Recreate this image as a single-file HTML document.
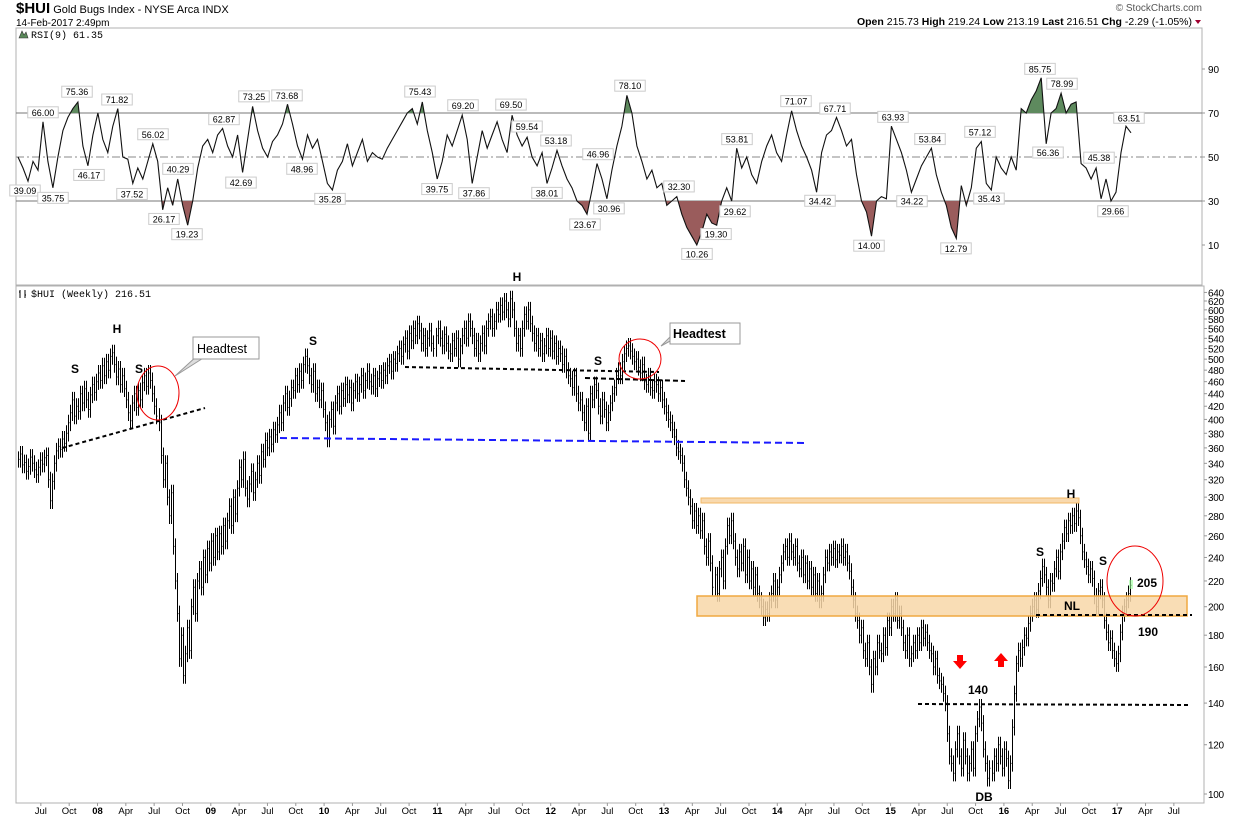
<!DOCTYPE html>
<html><head><meta charset="utf-8"><style>
html,body{margin:0;padding:0;background:#fff;}
svg{display:block;font-family:"Liberation Sans",Arial,sans-serif;}
</style></head><body>
<svg id="chart" width="1240" height="819" viewBox="0 0 1240 819" xmlns="http://www.w3.org/2000/svg">
<text x="16" y="13" font-size="11"><tspan font-weight="bold" font-size="15">$HUI</tspan> Gold Bugs Index - NYSE Arca INDX</text>
<text x="16" y="26" font-size="10">14-Feb-2017 2:49pm</text>
<text x="1202" y="11" font-size="10" fill="#555" text-anchor="end">© StockCharts.com</text>
<text x="1192" y="25" font-size="10.5" text-anchor="end"><tspan font-weight="bold">Open</tspan> 215.73 <tspan font-weight="bold">High</tspan> 219.24 <tspan font-weight="bold">Low</tspan> 213.19 <tspan font-weight="bold">Last</tspan> 216.51 <tspan font-weight="bold">Chg</tspan> -2.29 (-1.05%)</text>
<path d="M1195,20 l6,0 l-3,4 z" fill="#a00030"/>
<rect x="16" y="28" width="1186" height="257" fill="none" stroke="#b0b0b0"/>
<rect x="16" y="286" width="1188" height="517" fill="none" stroke="#b0b0b0"/>
<text x="31" y="38" font-size="10" font-family="Liberation Mono,monospace">RSI(9) 61.35</text>
<path d="M19,38 l3,-7 l2,4 l2,-3 l2,6 z" fill="#5a8a5a" stroke="#333" stroke-width="0.6"/>
<text x="31" y="297" font-size="10" font-family="Liberation Mono,monospace">$HUI (Weekly) 216.51</text>
<path d="M20,290 v8 M19,292 h1 M25,290 v8 M25,295 h1" stroke="#000"/>
<g id="rsi"></g>
<g id="price"></g>
<g id="axes"></g>
<g id="annot">
<line x1="62" y1="448" x2="205" y2="408" stroke="#000" stroke-width="2" stroke-dasharray="4,3"/>
<ellipse cx="158" cy="393" rx="21" ry="27" fill="none" stroke="#e00" stroke-width="1"/>
<path d="M175,376 L198,355 L208,355 z" fill="#ddd" stroke="#999"/>
<rect x="193" y="337" width="66" height="22" fill="#fff" stroke="#999"/>
<text x="197" y="353" font-size="12.5">Headtest</text>
<text x="75" y="373" font-size="12" font-weight="bold" text-anchor="middle">S</text>
<text x="117" y="333" font-size="12" font-weight="bold" text-anchor="middle">H</text>
<text x="139" y="373" font-size="12" font-weight="bold" text-anchor="middle">S</text>
<text x="313" y="345" font-size="12" font-weight="bold" text-anchor="middle">S</text>
<text x="517" y="281" font-size="12" font-weight="bold" text-anchor="middle">H</text>
<text x="598" y="365" font-size="12" font-weight="bold" text-anchor="middle">S</text>
<line x1="280" y1="438" x2="807" y2="443" stroke="#1a1aff" stroke-width="2" stroke-dasharray="7,4"/>
<line x1="405" y1="367" x2="659" y2="372" stroke="#000" stroke-width="2" stroke-dasharray="4,3"/>
<line x1="585" y1="378" x2="685" y2="381" stroke="#000" stroke-width="2" stroke-dasharray="5,3"/>
<ellipse cx="640" cy="359" rx="21" ry="20" fill="none" stroke="#e00" stroke-width="1"/>
<path d="M661,346 L673,334 L683,334 z" fill="#ddd" stroke="#999"/>
<rect x="670" y="323" width="70" height="21" fill="#fff" stroke="#999"/>
<text x="673" y="338" font-size="12.5" font-weight="bold">Headtest</text>
<rect x="701" y="498" width="378" height="5" fill="#f8d9ae" stroke="#f2b866"/>
<rect x="697" y="596" width="490" height="20" fill="#f8d7a8" fill-opacity="0.85" stroke="#f0a840" stroke-width="1.5"/>
<text x="1071" y="498" font-size="12" font-weight="bold" text-anchor="middle">H</text>
<text x="1040" y="556" font-size="12" font-weight="bold" text-anchor="middle">S</text>
<text x="1103" y="565" font-size="12" font-weight="bold" text-anchor="middle">S</text>
<line x1="1036" y1="615" x2="1192" y2="615" stroke="#000" stroke-width="2" stroke-dasharray="4,3"/>
<text x="1072" y="610" font-size="12" font-weight="bold" text-anchor="middle">NL</text>
<ellipse cx="1135" cy="581" rx="28" ry="35" fill="none" stroke="#e00" stroke-width="1"/>
<text x="1137" y="587" font-size="12" font-weight="bold">205</text>
<text x="1138" y="636" font-size="12" font-weight="bold">190</text>
<line x1="918" y1="704" x2="1190" y2="705" stroke="#000" stroke-width="2" stroke-dasharray="4,3"/>
<text x="978" y="694" font-size="12" font-weight="bold" text-anchor="middle">140</text>
<path d="M957,655 h6 v6 h4 l-7,8 l-7,-8 h4 z" fill="#f00"/>
<path d="M998,667 h6 v-6 h4 l-7,-8 l-7,8 h4 z" fill="#f00"/>
<text x="984" y="801" font-size="12" font-weight="bold" text-anchor="middle">DB</text>
</g>
</svg>
<script>
// ---- price data: weekly closes (Apr 2007 .. Feb 2017) ----
const closes = [345,352,338,341,330,336,348,340,332,326,335,344,339,347,350,
320,296,318,340,356, 362,358,372,366,380, 395,410,430,405,420, 412,440,425,448,430,
415,438,455,442,460, 475,462,488,470,495, 480,505,512,490,468, 482,455,470,448,430,
410,398,425,440,418, 445,430,458,470,452, 475,462,440,420,405, 395,350,320,340,300,
280,305,250,220,195, 165,180,155,168,185, 170,200,215,195,220, 230,215,240,225,248,
235,255,240,260,245, 262,250,270,255,275, 290,270,300,282,310, 335,320,345,310,298,
315,330,305,320,340, 325,355,345,370,360, 375,365,385,378,392, 410,395,425,440,418,
432,450,445,470,455, 478,462,490,505,488, 470,455,478,440,450, 430,445,415,395,372,
400,415,390,425,440, 420,445,432,455,438, 450,425,445,460,440, 455,470,445,462,478,
460,452,470,448,465, 475,462,480,470,488, 495,478,500,492,510, 520,505,528,540,515,
550,535,560,545,570, 555,530,545,520,540, 555,530,520,545,560, 540,525,548,530,515,
510,535,520,540,500, 525,545,560,540,575, 560,545,520,535,510, 530,550,525,560,575,
585,560,575,600,590, 610,595,620,600,580, 625,600,560,530,545, 520,560,590,575,600,
570,550,530,545,520, 535,510,525,545,520, 540,515,530,505,520, 510,490,505,480,470,
465,450,470,440,425, 430,410,395,420,380, 440,430,455,445,420, 405,430,415,395,410,
425,440,450,470,480, 470,495,510,520,525, 515,505,495,500,485, 475,490,460,455,470,
450,445,460,455,440, 450,430,420,410,400, 395,385,375,360,355, 350,340,320,310,300,
290,275,285,270,280, 265,275,250,240,255, 235,215,225,210,230, 240,220,250,270,260,
275,255,240,230,245, 235,250,225,240,220, 230,215,225,210,205, 200,192,198,195,205,
210,220,205,215,225, 235,245,250,240,255, 245,240,250,235,230, 240,225,235,220,230,
215,225,210,220,205, 210,225,240,235,245, 240,248,238,245,242, 250,240,245,235,228,
215,205,195,190,180, 185,170,165,175,160, 150,165,160,175,170, 168,180,172,190,185,
200,195,205,190,195, 185,175,170,180,165, 168,175,170,180,175, 185,178,182,175,170,
168,160,165,155,152, 150,145,140,125,115, 112,108,118,125,115, 110,122,115,108,112,
118,110,125,132,138, 130,118,112,106,110, 108,115,112,120,115, 110,118,114,105,112,
128,145,162,170,165, 172,180,178,188,195, 200,205,198,212,222, 232,225,215,205,220,
218,230,240,228,245, 255,268,262,275,270, 280,272,285,278,260, 245,238,232,225,230,
222,208,200,212,215, 205,190,182,175,178, 170,165,162,168,182, 195,200,205,210,216.5];
// ---- RSI(9) values sampled across the same period ----
const rsiValues = [50,45,39,48,44,66,48,36,50,62,68,72,75,55,46,60,70,58,52,64,72,50,49,38,45,40,48,56,48,26,36,28,40,28,19,30,45,55,58,52,60,63,55,50,60,43,58,73,62,54,50,57,60,65,74,65,55,49,60,54,58,48,38,35,44,48,56,46,52,58,48,52,50,49,54,58,62,66,70,72,65,75,62,52,40,48,60,55,62,69,58,38,50,62,54,60,66,58,52,69,60,55,59,50,46,52,38,45,53,46,40,36,30,28,24,35,47,40,31,44,55,64,78,70,55,48,40,44,36,38,28,30,32,24,18,14,10,16,24,20,19,30,36,30,54,45,50,42,38,48,55,60,52,48,60,71,62,55,50,44,34,52,60,62,68,62,55,58,42,30,25,14,30,32,31,64,58,52,44,34,40,46,50,54,42,34,28,18,13,37,28,36,54,57,38,35,50,45,42,50,44,72,70,76,80,86,56,70,72,79,70,74,75,47,45,40,45,31,40,30,34,52,64,61];
// RSI annotated values and the x pixel where each label sits
const rsiLabelValues = [39.09,66.00,35.75,75.36,46.17,71.82,37.52,56.02,26.17,40.29,19.23,62.87,42.69,73.25,73.68,48.96,35.28,75.43,39.75,69.20,37.86,69.50,59.54,38.01,53.18,23.67,46.96,30.96,78.10,32.30,10.26,19.30,29.62,53.81,71.07,34.42,67.71,14.00,63.93,34.22,53.84,12.79,57.12,35.43,85.75,56.36,78.99,45.38,29.66,63.51];
const rsiLabelX = [25,43,53,77,89,117,132,153,164,178,187,224,241,254,287,302,330,420,437,463,474,511,527,547,556,585,598,609,630,679,697,716,735,737,796,820,835,869,893,912,930,956,980,989,1040,1048,1062,1099,1113,1129];
const rsiLabelBelow = [1,0,1,0,1,0,1,0,1,0,1,0,1,0,0,1,1,0,1,0,1,0,0,1,0,1,0,1,0,0,1,1,1,0,0,1,0,1,0,1,0,1,0,1,0,1,0,0,1,0];
const rsiTicks = [90,70,50,30,10];
const priceTicks = [640,620,600,580,560,540,520,500,480,460,440,420,400,380,360,340,320,300,280,260,240,220,200,180,160,140,120,100];
const timeLabels = ["Jul","Oct","08","Apr","Jul","Oct","09","Apr","Jul","Oct","10","Apr","Jul","Oct","11","Apr","Jul","Oct","12","Apr","Jul","Oct","13","Apr","Jul","Oct","14","Apr","Jul","Oct","15","Apr","Jul","Oct","16","Apr","Jul","Oct","17","Apr","Jul"];
const timeLabelYears = [2007.5,2007.75,2008,2008.25,2008.5,2008.75,2009,2009.25,2009.5,2009.75,2010,2010.25,2010.5,2010.75,2011,2011.25,2011.5,2011.75,2012,2012.25,2012.5,2012.75,2013,2013.25,2013.5,2013.75,2014,2014.25,2014.5,2014.75,2015,2015.25,2015.5,2015.75,2016,2016.25,2016.5,2016.75,2017,2017.25,2017.5];

const NS="http://www.w3.org/2000/svg";
function mk(tag,attrs,parent){const e=document.createElementNS(NS,tag);for(const k in attrs)e.setAttribute(k,attrs[k]);parent.appendChild(e);return e;}
const xPrice = i => 18 + i*(1112/(closes.length-1));
const yPrice = p => 794 - 270.2*Math.log(p/100);
const xRsi = i => 18 + i*(1113/(rsiValues.length-1));
const yRsi = v => 157 - (v-50)*2.2;
const xTime = yr => 97.5 + (yr-2008)*113.3;

const rsiG=document.getElementById('rsi'), priceG=document.getElementById('price'), axG=document.getElementById('axes');

[70,30].forEach(v=>{const l=mk('line',{x1:16,x2:1202,y1:yRsi(v),y2:yRsi(v),stroke:'#777','stroke-width':1},rsiG);

});
const mid=mk('line',{x1:16,x2:1202,y1:yRsi(50),y2:yRsi(50),stroke:'#888','stroke-dasharray':'8,3,2,3'},rsiG);



const defs=mk('defs',{},rsiG);
const cpA=mk('clipPath',{id:'above70'},defs); mk('rect',{x:0,y:0,width:1240,height:yRsi(70)},cpA);
const cpB=mk('clipPath',{id:'below30'},defs); mk('rect',{x:0,y:yRsi(30),width:1240,height:300},cpB);
const pts=rsiValues.map((v,i)=>xRsi(i).toFixed(1)+','+yRsi(v).toFixed(1));
const last=rsiValues.length-1;
const fa=mk('polygon',{points:xRsi(0)+','+yRsi(70)+' '+pts.join(' ')+' '+xRsi(last)+','+yRsi(70),fill:'#5e8a5e','clip-path':'url(#above70)'},rsiG);


const fb=mk('polygon',{points:xRsi(0)+','+yRsi(30)+' '+pts.join(' ')+' '+xRsi(last)+','+yRsi(30),fill:'#9a5c5c','clip-path':'url(#below30)'},rsiG);


const rl=mk('polyline',{points:pts.join(' '),fill:'none',stroke:'#111','stroke-width':1.1},rsiG);



rsiLabelValues.forEach((v,k)=>{
  const x=rsiLabelX[k], y=yRsi(v), below=rsiLabelBelow[k];
  const g=mk('g',{},rsiG);
  
  
  const txt=v.toFixed(2), w=txt.length*5.3+4;
  const by= below ? y+4 : y-15;
  mk('rect',{x:x-w/2,y:by,width:w,height:11,fill:'#fff',stroke:'#ccc'},g);
  const t=mk('text',{x:x,y:by+9,'font-size':9,'text-anchor':'middle'},g); t.textContent=txt;
});
rsiTicks.forEach(v=>{
  const t=mk('text',{x:1208,y:yRsi(v)+4,'font-size':10},axG); t.textContent=v;
  
  
  mk('line',{x1:1202,x2:1205,y1:yRsi(v),y2:yRsi(v),stroke:'#999'},axG);
});

let d='';
closes.forEach((c,i)=>{
  const o = i>0 ? closes[i-1] : c;
  const hi=Math.max(o,c)*1.03, lo=Math.min(o,c)*0.97;
  const x=Math.round(xPrice(i))+0.5;
  d+='M'+x+','+yPrice(hi).toFixed(1)+'V'+yPrice(lo).toFixed(1);
  d+='M'+x+','+yPrice(c).toFixed(1)+'h1';
});
const bars=mk('path',{d:d,stroke:'#000','stroke-width':1,fill:'none'},priceG);


const lastBar=mk('rect',{x:xPrice(closes.length-1)-1,y:yPrice(closes[closes.length-1]*1.02),width:4,height:9,fill:'#9f9',opacity:0.6},priceG);



priceTicks.forEach(p=>{
  const t=mk('text',{x:1208,y:yPrice(p)+4,'font-size':10,'letter-spacing':'-0.3'},axG); t.textContent=p;
  
  
  mk('line',{x1:1204,x2:1207,y1:yPrice(p),y2:yPrice(p),stroke:'#999'},axG);
});
timeLabels.forEach((s,k)=>{
  const x=xTime(timeLabelYears[k]);
  const bold=/^\d/.test(s);
  const t=mk('text',{x:x,y:814,'font-size':9.5,'text-anchor':'middle','font-weight':bold?'bold':'normal'},axG); t.textContent=s;
  
  
  mk('line',{x1:x,x2:x,y1:803,y2:806,stroke:'#999'},axG);
});
</script>
</body></html>
